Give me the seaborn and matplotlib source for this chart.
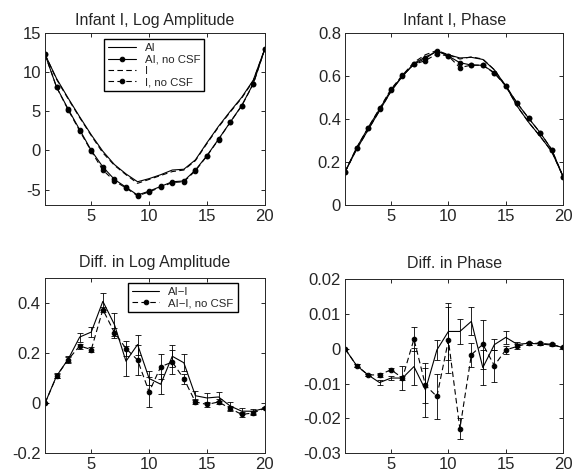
import numpy as np
import seaborn as sns
import matplotlib
matplotlib.use("Agg")
import matplotlib.pyplot as plt
from matplotlib.ticker import FuncFormatter

# x = channel index 1..20
x = np.arange(1, 21)

# Infant I, log amplitude
ai_amp = [12.3, 9.2, 6.7, 4.3, 2.0, -0.1, -1.8, -3.0, -4.0, -3.6,
          -3.1, -2.5, -2.4, -1.2, 1.0, 3.1, 5.0, 6.8, 9.0, 13.0]
ai_amp_nocsf = [12.3, 8.1, 5.3, 2.65, 0.0, -2.1, -3.7, -4.7, -5.7, -5.2,
                -4.6, -4.0, -3.9, -2.5, -0.65, 1.45, 3.6, 5.75, 8.55, 13.0]
i_amp = [12.3, 9.1, 6.6, 4.2, 1.9, -0.3, -1.9, -3.1, -4.2, -3.7,
         -3.2, -2.7, -2.5, -1.3, 0.9, 3.0, 4.9, 6.7, 8.9, 13.0]
i_amp_nocsf = [12.3, 8.1, 5.2, 2.5, -0.1, -2.5, -3.9, -4.8, -5.8, -5.3,
               -4.7, -4.1, -4.0, -2.6, -0.7, 1.4, 3.6, 5.7, 8.5, 13.0]

# Infant I, phase
ai_ph = [0.155, 0.26, 0.35, 0.44, 0.53, 0.60, 0.66, 0.69, 0.715, 0.70,
         0.685, 0.688, 0.678, 0.63, 0.555, 0.46, 0.385, 0.32, 0.25, 0.132]
ai_ph_nocsf = [0.155, 0.267, 0.36, 0.447, 0.536, 0.601, 0.656, 0.683, 0.718, 0.694,
               0.663, 0.652, 0.651, 0.617, 0.555, 0.474, 0.404, 0.337, 0.259, 0.132]
i_ph = [0.155, 0.26, 0.35, 0.44, 0.53, 0.605, 0.665, 0.70, 0.72, 0.70,
        0.68, 0.69, 0.68, 0.63, 0.555, 0.46, 0.385, 0.32, 0.25, 0.132]
i_ph_nocsf = [0.155, 0.267, 0.36, 0.45, 0.54, 0.605, 0.655, 0.673, 0.704, 0.694,
              0.640, 0.652, 0.651, 0.614, 0.555, 0.474, 0.404, 0.337, 0.259, 0.132]

# Diff. in log amplitude (AI - I)
d_amp = [0.0, 0.109, 0.176, 0.265, 0.285, 0.408, 0.315, 0.168, 0.235, 0.099,
         0.076, 0.188, 0.162, 0.03, 0.021, 0.025, -0.011, -0.032, -0.032, -0.02]
d_amp_err = [0, 0.01, 0.015, 0.018, 0.02, 0.035, 0.046, 0.06, 0.04, 0.028,
             0.04, 0.044, 0.034, 0.018, 0.02, 0.018, 0.015, 0.012, 0.01, 0.005]
d_amp_nocsf = [0.0, 0.108, 0.175, 0.229, 0.215, 0.375, 0.283, 0.219, 0.173, 0.045,
               0.146, 0.165, 0.098, 0.005, -0.005, 0.005, -0.021, -0.045, -0.039, -0.02]
d_amp_nocsf_err = [0, 0.008, 0.01, 0.01, 0.01, 0.01, 0.02, 0.03, 0.06, 0.06,
                   0.05, 0.047, 0.02, 0.01, 0.01, 0.01, 0.01, 0.01, 0.008, 0.005]

# Diff. in phase (AI - I)
d_ph = [0.0, -0.0048, -0.0075, -0.0097, -0.0084, -0.0084, -0.0051, -0.0118, -0.0003, 0.005,
        0.005, 0.0079, -0.0054, 0.0012, 0.0033, 0.0013, 0.0016, 0.0014, 0.0011, 0.0004]
d_ph_err = [0, 0.0003, 0.0004, 0.0008, 0.0005, 0.0034, 0.0053, 0.0078, 0.0028, 0.0081,
            0.0035, 0.004, 0.005, 0.0016, 0.0018, 0.0008, 0.0004, 0.0004, 0.0003, 0.0002]
d_ph_nocsf = [0.0, -0.0048, -0.0075, -0.0075, -0.006, -0.0084, 0.0028, -0.0105, -0.0137, 0.0025,
              -0.023, -0.0017, 0.0013, -0.0048, -0.0003, 0.0007, 0.0016, 0.0016, 0.0013, 0.0004]
d_ph_nocsf_err = [0, 0.0003, 0.0003, 0.0005, 0.0004, 0.0006, 0.0034, 0.005, 0.0065, 0.0095,
                  0.003, 0.0035, 0.007, 0.0046, 0.0012, 0.0008, 0.0004, 0.0004, 0.0003, 0.0002]

sns.set_style("ticks")
plt.rcParams['font.family'] = ['Liberation Sans', 'DejaVu Sans']
plt.rcParams['xtick.direction'] = 'in'
plt.rcParams['ytick.direction'] = 'in'
plt.rcParams['xtick.top'] = True
plt.rcParams['ytick.right'] = True
plt.rcParams['xtick.major.size'] = 3
plt.rcParams['ytick.major.size'] = 3
plt.rcParams['axes.linewidth'] = 0.7

fig = plt.figure(figsize=(5.8, 4.75), dpi=100)
ax1 = fig.add_axes([0.0776, 0.568, 0.379, 0.362])
ax2 = fig.add_axes([0.595, 0.568, 0.376, 0.362])
ax3 = fig.add_axes([0.0776, 0.046, 0.379, 0.368])
ax4 = fig.add_axes([0.595, 0.046, 0.376, 0.366])

lw = 0.8
ms = 3.3
dash = (0, (5, 3))
fmt = FuncFormatter(lambda v, p: '%g' % round(v, 6))
leg_kw = dict(fontsize=8.2, fancybox=False, edgecolor='k', framealpha=1, borderaxespad=0,
              handlelength=2.4, labelspacing=0.12, borderpad=0.35)

# top left
sns.lineplot(x=x, y=ai_amp, ax=ax1, color='k', lw=lw, label='AI')
sns.lineplot(x=x, y=ai_amp_nocsf, ax=ax1, color='k', lw=lw, marker='o', ms=ms,
             markeredgecolor='k', label='AI, no CSF')
sns.lineplot(x=x, y=i_amp, ax=ax1, color='k', lw=lw, linestyle=dash, label='I')
sns.lineplot(x=x, y=i_amp_nocsf, ax=ax1, color='k', lw=lw, linestyle=dash, marker='o',
             ms=ms, markeredgecolor='k', label='I, no CSF')
ax1.set_ylim(-7, 15)
ax1.set_yticks([-5, 0, 5, 10, 15])
ax1.set_title('Infant I, Log Amplitude', fontsize=11.5, pad=6)
ax1.legend(loc='upper left', bbox_to_anchor=(0.27, 0.965), **leg_kw)

# top right
sns.lineplot(x=x, y=ai_ph, ax=ax2, color='k', lw=lw)
sns.lineplot(x=x, y=ai_ph_nocsf, ax=ax2, color='k', lw=lw, marker='o', ms=ms,
             markeredgecolor='k')
sns.lineplot(x=x, y=i_ph, ax=ax2, color='k', lw=lw, linestyle=dash)
sns.lineplot(x=x, y=i_ph_nocsf, ax=ax2, color='k', lw=lw, linestyle=dash, marker='o',
             ms=ms, markeredgecolor='k')
ax2.set_ylim(0, 0.8)
ax2.set_yticks([0, 0.2, 0.4, 0.6, 0.8])
ax2.set_title('Infant I, Phase', fontsize=11.5, pad=6)

# bottom left
ax3.errorbar(x, d_amp, yerr=d_amp_err, fmt='none', ecolor='k', elinewidth=0.6, capsize=2.2,
             capthick=0.6)
ax3.errorbar(x, d_amp_nocsf, yerr=d_amp_nocsf_err, fmt='none', ecolor='k', elinewidth=0.6,
             capsize=2.2, capthick=0.6)
sns.lineplot(x=x, y=d_amp, ax=ax3, color='k', lw=lw, label='AI\u2212I')
sns.lineplot(x=x, y=d_amp_nocsf, ax=ax3, color='k', lw=lw, linestyle=dash, marker='o',
             ms=ms, markeredgecolor='k', label='AI\u2212I, no CSF')
ax3.set_ylim(-0.2, 0.5)
ax3.set_yticks([-0.2, 0, 0.2, 0.4])
ax3.set_title('Diff. in Log Amplitude', fontsize=11.5, pad=8)
ax3.legend(loc='upper left', bbox_to_anchor=(0.377, 0.975), **leg_kw)

# bottom right
ax4.errorbar(x, d_ph, yerr=d_ph_err, fmt='none', ecolor='k', elinewidth=0.6, capsize=2.2,
             capthick=0.6)
ax4.errorbar(x, d_ph_nocsf, yerr=d_ph_nocsf_err, fmt='none', ecolor='k', elinewidth=0.6,
             capsize=2.2, capthick=0.6)
sns.lineplot(x=x, y=d_ph, ax=ax4, color='k', lw=lw)
sns.lineplot(x=x, y=d_ph_nocsf, ax=ax4, color='k', lw=lw, linestyle=dash, marker='o',
             ms=ms, markeredgecolor='k')
ax4.set_ylim(-0.03, 0.02)
ax4.set_yticks([-0.03, -0.02, -0.01, 0, 0.01, 0.02])
ax4.set_title('Diff. in Phase', fontsize=11.5, pad=8)

for ax in [ax1, ax2, ax3, ax4]:
    ax.set_xlim(1, 20)
    ax.set_xticks([5, 10, 15, 20])
    ax.yaxis.set_major_formatter(fmt)
    ax.tick_params(labelsize=12, width=0.7, pad=3)
    ax.set_xlabel('')
    ax.set_ylabel('')
    for s in ax.spines.values():
        s.set_visible(True)

fig.savefig('out.png', dpi=100)
